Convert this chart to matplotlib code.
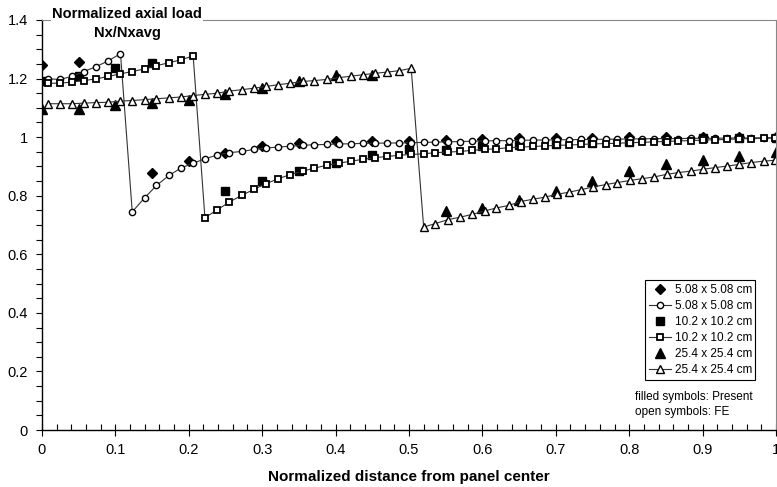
import numpy as np
import matplotlib
matplotlib.use("Agg")
import matplotlib.pyplot as plt
from matplotlib.ticker import MultipleLocator, FuncFormatter

plt.rcParams['font.family'] = ['Liberation Sans', 'DejaVu Sans']

# FE results (open symbols)
x_fe = [0.008, 0.024, 0.041, 0.057, 0.074, 0.090, 0.107, 0.123, 0.140, 0.156,
        0.173, 0.189, 0.206, 0.222, 0.239, 0.255, 0.272, 0.289, 0.305, 0.322,
        0.338, 0.355, 0.371, 0.388, 0.404, 0.421, 0.437, 0.454, 0.470, 0.487,
        0.503, 0.520, 0.536, 0.553, 0.570, 0.586, 0.603, 0.619, 0.636, 0.652,
        0.669, 0.685, 0.702, 0.718, 0.735, 0.751, 0.768, 0.784, 0.801, 0.817,
        0.834, 0.851, 0.867, 0.884, 0.900, 0.917, 0.933, 0.950, 0.966, 0.983,
        0.999]
fe_508 = [1.199, 1.197, 1.207, 1.224, 1.241, 1.260, 1.285, 0.745, 0.793, 0.835,
          0.869, 0.894, 0.911, 0.926, 0.939, 0.947, 0.951, 0.958, 0.963, 0.966,
          0.969, 0.972, 0.974, 0.975, 0.977, 0.977, 0.979, 0.979, 0.980, 0.980,
          0.981, 0.982, 0.983, 0.984, 0.985, 0.986, 0.987, 0.988, 0.988, 0.989,
          0.990, 0.990, 0.991, 0.991, 0.992, 0.992, 0.993, 0.993, 0.994, 0.994,
          0.995, 0.995, 0.995, 0.996, 0.996, 0.996, 0.997, 0.997, 0.997, 0.998,
          0.998]
fe_102 = [1.184, 1.184, 1.188, 1.193, 1.199, 1.207, 1.216, 1.224, 1.233, 1.244,
          1.254, 1.264, 1.277, 0.725, 0.752, 0.778, 0.801, 0.822, 0.841, 0.858,
          0.872, 0.884, 0.894, 0.904, 0.911, 0.918, 0.924, 0.930, 0.934, 0.938,
          0.941, 0.943, 0.947, 0.949, 0.951, 0.955, 0.958, 0.960, 0.964, 0.966,
          0.968, 0.970, 0.972, 0.973, 0.975, 0.977, 0.978, 0.979, 0.981, 0.982,
          0.984, 0.985, 0.987, 0.988, 0.990, 0.991, 0.992, 0.994, 0.995, 0.996,
          0.997]
fe_254 = [1.114, 1.114, 1.114, 1.116, 1.118, 1.119, 1.123, 1.125, 1.128, 1.131,
          1.134, 1.137, 1.142, 1.146, 1.150, 1.157, 1.162, 1.167, 1.173, 1.179,
          1.184, 1.190, 1.193, 1.197, 1.203, 1.208, 1.213, 1.218, 1.222, 1.227,
          1.235, 0.693, 0.705, 0.718, 0.727, 0.736, 0.748, 0.758, 0.767, 0.780,
          0.788, 0.795, 0.805, 0.812, 0.821, 0.830, 0.838, 0.845, 0.852, 0.858,
          0.864, 0.873, 0.879, 0.884, 0.890, 0.896, 0.901, 0.907, 0.913, 0.918,
          0.921]

# present method (filled symbols)
nan = np.nan
x_pres = [0, 0.05, 0.1, 0.15, 0.2, 0.25, 0.3, 0.35, 0.4, 0.45, 0.5,
          0.55, 0.6, 0.65, 0.7, 0.75, 0.8, 0.85, 0.9, 0.95, 1.0]
pres_508 = [1.247, 1.255, nan, 0.879, 0.918, 0.947, 0.968, 0.980, 0.987, 0.987, 0.988,
            0.990, 0.993, 0.996, 0.997, 0.998, 0.999, 1.0, 1.0, 1.0, 1.0]
pres_102 = [1.193, 1.210, 1.235, 1.252, nan, 0.816, 0.850, 0.884, 0.913, 0.940, 0.960,
            0.957, 0.968, 0.972, 0.975, 0.980, 0.985, 0.991, 0.997, 0.997, 0.998]
pres_254 = [1.097, 1.097, 1.108, 1.116, 1.127, 1.146, 1.167, 1.191, 1.213, 1.213, nan,
            0.748, 0.759, 0.784, 0.816, 0.850, 0.883, 0.907, 0.921, 0.935, 0.950]

labels = ['5.08 x 5.08 cm', '10.2 x 10.2 cm', '25.4 x 25.4 cm']

fig = plt.figure(figsize=(7.77, 4.87), dpi=100)
ax = fig.add_axes([0.054, 0.117, 0.9447, 0.842])

# filled symbols first, FE lines on top
p1, = ax.plot(x_pres, pres_508, ls='none', marker='D', color='k', ms=5.4, label=labels[0])
p2, = ax.plot(x_pres, pres_102, ls='none', marker='s', color='k', ms=6.2, label=labels[1])
p3, = ax.plot(x_pres, pres_254, ls='none', marker='^', color='k', ms=6.8, label=labels[2])

f1, = ax.plot(x_fe, fe_508, color='#333333', lw=0.8, marker='o', ms=4.5,
              mfc='white', mec='k', mew=1.0, label=labels[0])
f2, = ax.plot(x_fe, fe_102, color='#333333', lw=0.8, marker='s', ms=4.6,
              mfc='white', mec='k', mew=1.3, label=labels[1])
f3, = ax.plot(x_fe, fe_254, color='#333333', lw=0.8, marker='^', ms=5.3,
              mfc='white', mec='k', mew=1.0, label=labels[2])

ax.set_xlim(0, 1)
ax.set_ylim(0, 1.4)
ax.xaxis.set_major_locator(MultipleLocator(0.1))
ax.xaxis.set_minor_locator(MultipleLocator(0.02))
ax.yaxis.set_major_locator(MultipleLocator(0.2))
ax.yaxis.set_minor_locator(MultipleLocator(0.05))
fmt = FuncFormatter(lambda v, p: '%g' % round(v, 2))
ax.xaxis.set_major_formatter(fmt)
ax.yaxis.set_major_formatter(fmt)

ax.tick_params(axis='x', which='major', direction='inout', length=8, width=0.8,
               labelsize=10.5, pad=5)
ax.tick_params(axis='x', which='minor', direction='in', length=4, width=0.8)
ax.tick_params(axis='y', which='both', direction='out', length=4, width=0.8,
               labelsize=10.5, pad=6)

for s in ['left', 'bottom']:
    ax.spines[s].set_color('k')
    ax.spines[s].set_linewidth(1)
for s in ['top', 'right']:
    ax.spines[s].set_color('#888888')
    ax.spines[s].set_linewidth(0.8)

ax.set_xlabel('Normalized distance from panel center', fontsize=11, fontweight='bold',
              labelpad=10)

fig.text(127 / 777, 1 - 7 / 487, 'Normalized axial load\nNx/Nxavg', ha='center', va='top',
         fontsize=10.5, fontweight='bold', linespacing=1.45,
         bbox=dict(facecolor='white', edgecolor='none', pad=1))

leg = ax.legend(handles=[p1, f1, p2, f2, p3, f3], loc='upper right',
                bbox_to_anchor=(0.972, 0.365), borderaxespad=0, fontsize=8.5,
                fancybox=False, edgecolor='k', framealpha=1, handlelength=1.9,
                handletextpad=0.3, borderpad=0.3, labelspacing=0.34)
leg.get_frame().set_linewidth(0.8)

ax.text(0.808, 0.063, 'filled symbols: Present\nopen symbols: FE', transform=ax.transAxes,
        fontsize=8.5, ha='left', va='center', linespacing=1.3)

fig.savefig('out.png', dpi=100)
